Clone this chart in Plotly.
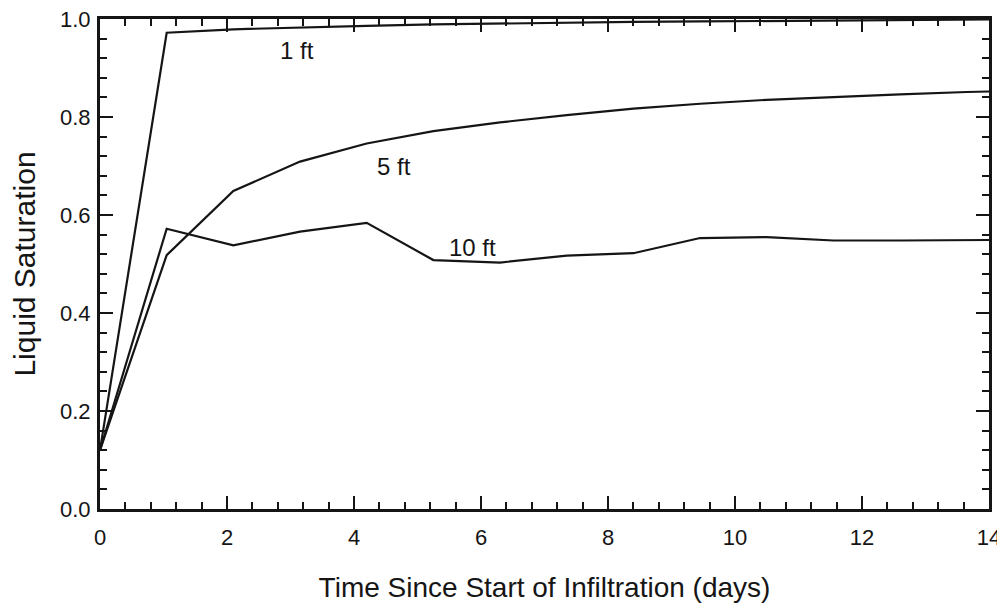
import plotly.graph_objects as go

# time steps (days)
days = [0, 1.05, 2.1, 3.15, 4.2, 5.25, 6.3, 7.35, 8.4, 9.45, 10.5, 11.55, 12.6, 13.65, 14]

# liquid saturation at each depth
sat_1ft = [0.12, 0.972, 0.979, 0.983, 0.986, 0.989, 0.991, 0.993, 0.994, 0.995, 0.996, 0.997, 0.998, 0.998, 0.999]
sat_5ft = [0.12, 0.518, 0.649, 0.709, 0.746, 0.771, 0.789, 0.804, 0.817, 0.827, 0.835, 0.841, 0.846, 0.851, 0.852]
sat_10ft = [0.12, 0.572, 0.538, 0.566, 0.584, 0.508, 0.503, 0.517, 0.522, 0.553, 0.555, 0.548, 0.548, 0.549, 0.549]

labels = ["1 ft", "5 ft", "10 ft"]
label_pos = [(3.1, 0.935), (4.63, 0.70), (5.87, 0.533)]

FONT = 'Liberation Sans, Arial'
INK = '#151515'

fig = go.Figure()
for y in (sat_1ft, sat_5ft, sat_10ft):
    fig.add_trace(go.Scatter(x=days, y=y, mode='lines',
                             line=dict(color=INK, width=2.2), showlegend=False))

for txt, (x, y) in zip(labels, label_pos):
    fig.add_annotation(x=x, y=y, text=txt, showarrow=False,
                       font=dict(size=24, color=INK, family=FONT))

axis_common = dict(showline=True, linecolor=INK, linewidth=3, mirror='ticks',
                   ticks='inside', tickcolor=INK, tickwidth=1.8, ticklen=13,
                   showgrid=False, zeroline=False, automargin=False,
                   ticklabeloverflow='allow',
                   tickfont=dict(size=22, color=INK, family=FONT),
                   minor=dict(ticks='inside', ticklen=7, tickwidth=1.8, tickcolor=INK))

fig.update_xaxes(range=[0, 14], dtick=2, minor_dtick=0.4, ticklabelstandoff=7,
                 title=dict(text='Time Since Start of Infiltration (days)', standoff=38,
                            font=dict(size=28, color=INK, family=FONT)),
                 **axis_common)
fig.update_yaxes(range=[0, 1.0], dtick=0.2, minor_dtick=0.04, tickformat='.1f',
                 ticklabelstandoff=2,
                 title=dict(text='Liquid Saturation', standoff=22,
                            font=dict(size=30, color=INK, family=FONT)),
                 **axis_common)

# the page body adds an 8px offset, so the figure is shifted back by that much
fig.update_layout(width=997, height=595, plot_bgcolor='white', paper_bgcolor='white',
                  margin=dict(l=92, r=16, t=11, b=94))

fig.write_html("out.html")
